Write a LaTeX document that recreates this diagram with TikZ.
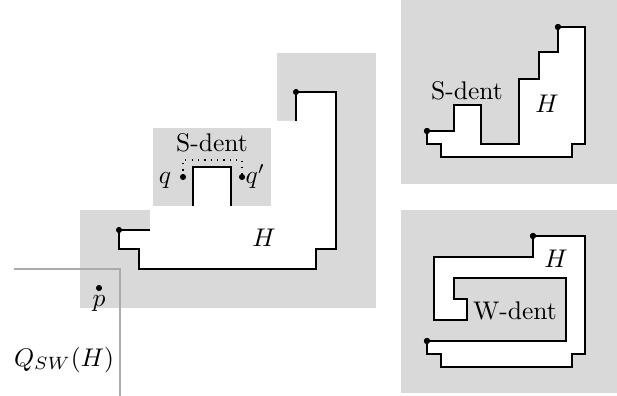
\documentclass[tikz,border=0pt]{standalone}
\begin{document}
\begin{tikzpicture}[x=0.392pt,y=-0.392pt,
  shade/.style={fill=black!15},
  hline/.style={line width=0.7pt,line join=miter},
  dot/.style={circle,fill=black,inner sep=0pt,minimum size=2.4pt},
  lbl/.style={inner sep=0pt,anchor=base},
  quad/.style={draw=black!33,line width=1pt}]
\useasboundingbox (0,0) rectangle (617,396);
% ---------------- left figure ----------------
\fill[shade] (80,210) rectangle (376,308);
\fill[shade] (277,53) rectangle (376,308);
\fill[white] (119,230) -- (150,230) -- (150,121) -- (296,121) -- (296,92) -- (336,92)
  -- (336,249) -- (316,249) -- (316,269) -- (139,269) -- (139,249) -- (119,249) -- cycle;
\fill[shade] (153,128) rectangle (271,206);
\fill[white] (193,167) rectangle (231,206);
\draw[hline] (193,206) -- (193,167) -- (231,167) -- (231,206);
\node[dot] (a1) at (119,230) {};
\node[dot] (a2) at (296,92) {};
\coordinate (a1e) at (150,230);
\coordinate (a2e) at (296,121);
\draw[hline] (a1e) -- (a1.center) -- (119,249) -- (139,249) -- (139,269) -- (316,269)
  -- (316,249) -- (336,249) -- (336,92) -- (a2.center) -- (a2e);
\node[dot] (q) at (183,177) {};
\node[dot] (qq) at (242,177) {};
\draw[dotted,line width=0.5pt] (q.center) -- (183,160) -- (242,160) -- (qq.center);
\node[lbl] (sd1) at (212,152) {S-dent};
\node[lbl] (ql) at (165,184) {$q$};
\node[lbl,anchor=base west] (qql) at (245,184) {$q'$};
\node[lbl] (h1) at (264,247) {$H$};
\node[dot] (p) at (99,288) {};
\node[lbl] (pl) at (99,306) {$p$};
\coordinate (qa) at (14,269);
\coordinate (qb) at (120,269);
\coordinate (qc) at (120,396);
\draw[quad] (qa) -- (qb) -- (qc);
\node[lbl] (qsw) at (64,366) {$Q_{SW}(H)$};
% ---------------- top right panel ----------------
\fill[shade] (401,0) rectangle (617,184);
\node[dot] (b1) at (427,131) {};
\node[dot] (b2) at (558,27) {};
\filldraw[hline,fill=white] (b1.center) -- (454,131) -- (454,105) -- (481,105) -- (481,144)
  -- (519,144) -- (519,79) -- (539,79) -- (539,52) -- (558,52) -- (b2.center) -- (585,27)
  -- (585,144) -- (572,144) -- (572,157) -- (441,157) -- (441,144) -- (427,144) -- cycle;
\node[dot] at (b1) {};
\node[dot] at (b2) {};
\node[lbl] (sd2) at (467,100) {S-dent};
\node[lbl] (h2) at (547,113) {$H$};
% ---------------- bottom right panel ----------------
\fill[shade] (401,210) rectangle (617,393);
\node[dot] (c1) at (427,341) {};
\node[dot] (c2) at (533,236) {};
\filldraw[hline,fill=white] (c1.center) -- (566,341) -- (566,278) -- (454,278) -- (454,299)
  -- (467,299) -- (467,320) -- (434,320) -- (434,257) -- (533,257) -- (c2.center)
  -- (585,236) -- (585,354) -- (572,354) -- (572,367) -- (441,367) -- (441,354)
  -- (427,354) -- cycle;
\node[dot] at (c1) {};
\node[dot] at (c2) {};
\node[lbl] (h3) at (556,268) {$H$};
\node[lbl] (wd) at (515,319) {W-dent};
\end{tikzpicture}
\end{document}
